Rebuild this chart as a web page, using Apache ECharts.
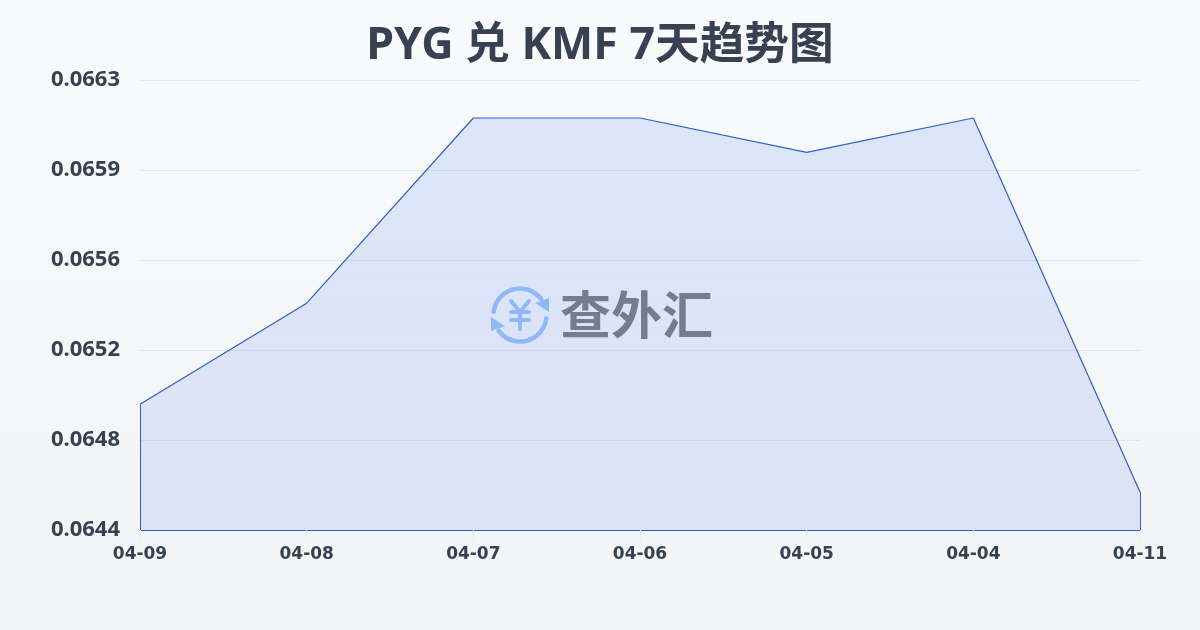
<!DOCTYPE html>
<html><head><meta charset="utf-8">
<style>html,body{margin:0;padding:0;width:1200px;height:630px;overflow:hidden}#c{width:1200px;height:630px}</style>
<script src="https://cdn.jsdelivr.net/npm/echarts@6/dist/echarts.min.js"></script>
</head><body><div id="c"></div>
<script>
const titleText = 'PYG 兑 KMF 7天趋势图';
const categories = ['04-09','04-08','04-07','04-06','04-05','04-04','04-11'];
const rates = [0.06496,0.065385,0.066165,0.066165,0.06602,0.066165,0.06459];
const axisMin = 0.06443, axisInterval = 0.000379, axisMax = 0.066325;
const FONT = '"Noto Sans","Noto Sans CJK SC",sans-serif';
const TEXT = '#374151', LINE = '#2c60c6', ICON = '#8fb8f6';
const chart = echarts.init(document.getElementById('c'), null, {renderer:'canvas'});
const first = categories[0], last = categories[categories.length-1];
const yenStroke = {stroke:ICON,lineWidth:4,fill:null,lineCap:'round',lineJoin:'round'};
chart.setOption({
  animation:false,
  backgroundColor:{type:'linear',x:0,y:0,x2:0,y2:1,colorStops:[{offset:0,color:'#f8fafc'},{offset:1,color:'#f3f4f6'}]},
  title:{text:titleText,left:'center',top:19,textStyle:{fontFamily:FONT,fontSize:44.7,fontWeight:'bold',color:TEXT}},
  grid:{left:140,right:60,top:80,bottom:100},
  xAxis:{type:'category',boundaryGap:false,data:categories,
    axisLine:{show:true,lineStyle:{color:LINE,width:1}},
    axisTick:{show:true,length:10,lineStyle:{color:'#eceef1',width:1}},
    axisLabel:{fontFamily:'"DejaVu Sans",sans-serif',fontSize:17,fontWeight:'bold',color:TEXT,margin:16,interval:0},
    splitLine:{show:false}},
  yAxis:{type:'value',min:axisMin,max:axisMax,interval:axisInterval,
    axisLine:{show:false},axisTick:{show:false},
    axisLabel:{fontFamily:FONT,fontSize:22,fontWeight:'bold',color:TEXT,margin:20,formatter:v=>v.toFixed(4)},
    splitLine:{show:true,lineStyle:{color:'#e5e7eb',width:1}}},
  series:[{type:'line',data:rates,smooth:false,showSymbol:false,symbol:'none',
    lineStyle:{color:LINE,width:1.2},
    areaStyle:{color:{type:'linear',x:0,y:0,x2:0,y2:1,colorStops:[{offset:0,color:'rgba(37,99,235,0.19)'},{offset:1,color:'rgba(37,85,225,0.16)'}]}},
    markLine:{silent:true,symbol:'none',label:{show:false},lineStyle:{color:LINE,width:1,type:'solid'},
      data:[[{coord:[first,axisMin]},{coord:[first,rates[0]]}],[{coord:[last,axisMin]},{coord:[last,rates[rates.length-1]]}]]}
  }],
  graphic:[
    {type:'arc',z:100,shape:{cx:520,cy:315,r:26.5,startAngle:-Math.PI*0.96,endAngle:-Math.PI*0.2},style:{stroke:ICON,lineWidth:4.5,fill:null,lineCap:'round'}},
    {type:'arc',z:100,shape:{cx:520,cy:315,r:26.5,startAngle:Math.PI*0.04,endAngle:Math.PI*0.8},style:{stroke:ICON,lineWidth:4.5,fill:null,lineCap:'round'}},
    {type:'polygon',z:100,shape:{points:[[549,298],[549,312],[535,303]]},style:{fill:ICON}},
    {type:'polygon',z:100,shape:{points:[[491,317],[491,331],[505,326]]},style:{fill:ICON}},
    {type:'polyline',z:100,shape:{points:[[511,301],[520,312],[529,301]]},style:yenStroke},
    {type:'polyline',z:100,shape:{points:[[511,312],[529,312]]},style:yenStroke},
    {type:'polyline',z:100,shape:{points:[[511,320],[529,320]]},style:yenStroke},
    {type:'polyline',z:100,shape:{points:[[520,312],[520,329]]},style:yenStroke},
    {type:'text',z:100,style:{text:'查外汇',x:560,y:315,align:'left',verticalAlign:'middle',fontFamily:'"Noto Sans CJK SC",sans-serif',fontSize:51,fontWeight:'bold',fill:'#747d8e'}}
  ]
});
</script></body></html>
